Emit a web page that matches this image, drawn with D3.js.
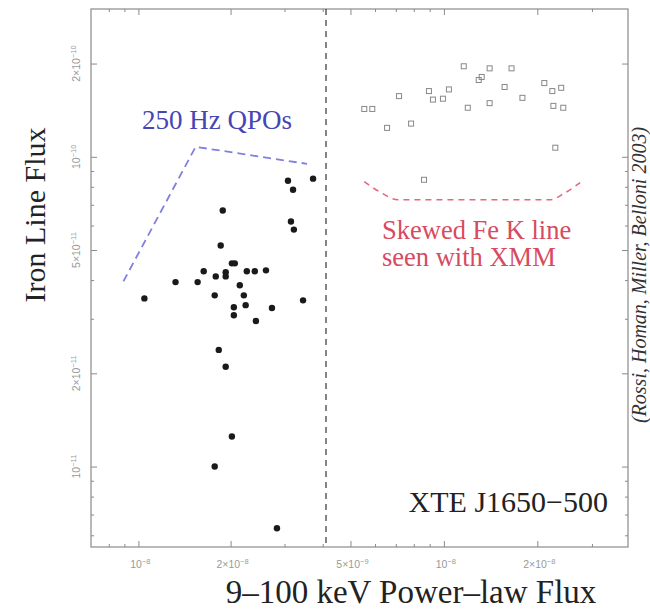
<!DOCTYPE html>
<html>
<head>
<meta charset="utf-8">
<script src="https://cdn.jsdelivr.net/npm/d3@7"></script>
<style>
  body { margin: 0; background: #fff; }
  svg { display: block; }
</style>
</head>
<body>
<div id="chart"></div>
<script>
// flux units: x in 1e-8, y in 1e-11

// RXTE points (left panel, filled dots)
const rxteX = [3.08, 3.72, 3.20, 1.886, 3.15, 3.22, 1.857, 2.02, 2.065, 1.634, 1.789, 1.928, 1.928,
    2.26, 2.40, 2.61, 1.322, 1.561, 2.144, 1.046, 1.775, 2.21, 3.45, 2.05, 2.24, 2.05, 2.73, 2.42,
    1.83, 1.928, 2.02, 1.775, 2.835];
const rxteY = [8.37, 8.50, 7.83, 6.71, 6.18, 5.82, 5.17, 4.53, 4.53, 4.27, 4.11, 4.24, 4.11,
    4.27, 4.27, 4.30, 3.94, 3.94, 3.85, 3.49, 3.57, 3.57, 3.44, 3.27, 3.32, 3.08, 3.25, 2.95,
    2.38, 2.10, 1.25, 1.00, 0.632];

// XMM-era points (right panel, open squares)
const xmmX = [0.554, 0.588, 0.717, 0.656, 0.784, 0.895, 0.922, 0.993, 1.038, 1.159, 1.194, 1.404,
    1.295, 1.324, 1.404, 1.652, 1.569, 1.791, 2.107, 2.236, 2.388, 2.253, 2.425, 2.286, 0.863];
const xmmY = [14.27, 14.27, 15.7, 12.4, 12.8, 16.3, 15.3, 15.4, 16.5, 19.6, 14.4, 19.3,
    17.7, 18.1, 14.9, 19.3, 16.8, 15.5, 17.3, 16.3, 16.7, 14.6, 14.4, 10.7, 8.43];

// dashed region outlines
const qpoLineX = [0.893, 1.538, 3.556];
const qpoLineY = [3.96, 10.77, 9.49];
const feLineX = [0.554, 0.619, 0.712, 1.0, 1.6, 2.203, 2.461, 2.749];
const feLineY = [8.31, 7.72, 7.27, 7.27, 7.27, 7.27, 7.66, 8.25];

// ticks
const yMajor = [1, 2, 5, 10, 20];
const yMajorLabels = [["10", "−11"], ["2×10", "−11"], ["5×10", "−11"], ["10", "−10"], ["2×10", "−10"]];
const yMinor = [0.6, 0.7, 0.8, 0.9, 3, 4, 6, 7, 8, 9];
const xLeftMajor = [1, 2];
const xLeftLabels = [["10", "−8"], ["2×10", "−8"]];
const xLeftMinor = [0.8, 0.9, 3, 4];
const xRightMajor = [0.5, 1, 2];
const xRightLabels = [["5×10", "−9"], ["10", "−8"], ["2×10", "−8"]];
const xRightMinor = [0.6, 0.7, 0.8, 0.9, 3];

const W = 650, H = 610;
const box = {left: 91, right: 628, top: 9, bottom: 547, split: 326};

const svg = d3.select("#chart").append("svg").attr("width", W).attr("height", H);

const y = d3.scaleLog().domain([0.55, 30]).range([box.bottom, box.top]);
const xL = d3.scaleLog().domain([0.7, 4.1]).range([box.left, box.split]);
const xR = d3.scaleLog().domain([0.417, 3.92]).range([box.split, box.right]);

const axisColor = "#8a8a8a";
const labelColor = "#999";
const serif = "'Liberation Serif', 'DejaVu Serif', serif";
const sans = "'Liberation Sans', 'DejaVu Sans', sans-serif";

function styleAxis(g) {
    g.select(".domain").remove();
    g.selectAll("line").attr("stroke", axisColor);
}

// inward ticks on all four sides
svg.append("g").attr("transform", `translate(${box.left},0)`)
    .call(d3.axisRight(y).tickValues(yMajor).tickSize(6).tickFormat("")).call(styleAxis);
svg.append("g").attr("transform", `translate(${box.left},0)`)
    .call(d3.axisRight(y).tickValues(yMinor).tickSize(3).tickFormat("")).call(styleAxis);
svg.append("g").attr("transform", `translate(${box.right},0)`)
    .call(d3.axisLeft(y).tickValues(yMajor).tickSize(6).tickFormat("")).call(styleAxis);
svg.append("g").attr("transform", `translate(${box.right},0)`)
    .call(d3.axisLeft(y).tickValues(yMinor).tickSize(3).tickFormat("")).call(styleAxis);

[[xL, xLeftMajor, xLeftMinor], [xR, xRightMajor, xRightMinor]].forEach(([sc, maj, min]) => {
    svg.append("g").attr("transform", `translate(0,${box.bottom})`)
        .call(d3.axisTop(sc).tickValues(maj).tickSize(6).tickFormat("")).call(styleAxis);
    svg.append("g").attr("transform", `translate(0,${box.bottom})`)
        .call(d3.axisTop(sc).tickValues(min).tickSize(3).tickFormat("")).call(styleAxis);
    svg.append("g").attr("transform", `translate(0,${box.top})`)
        .call(d3.axisBottom(sc).tickValues(maj).tickSize(6).tickFormat("")).call(styleAxis);
    svg.append("g").attr("transform", `translate(0,${box.top})`)
        .call(d3.axisBottom(sc).tickValues(min).tickSize(3).tickFormat("")).call(styleAxis);
});

// frame
svg.append("rect")
    .attr("x", box.left).attr("y", box.top)
    .attr("width", box.right - box.left).attr("height", box.bottom - box.top)
    .attr("fill", "none").attr("stroke", axisColor).attr("stroke-width", 1.2);

// tick labels with superscript exponents
function supText(t, base, exp) {
    t.append("tspan").text(base);
    t.append("tspan").attr("dy", -4.5).attr("font-size", 7.5).text(exp);
}

yMajor.forEach((v, i) => {
    const t = svg.append("text")
        .attr("transform", `translate(80,${y(v)}) rotate(-90)`)
        .attr("text-anchor", "middle")
        .attr("font-family", sans).attr("font-size", 10.5).attr("fill", labelColor);
    supText(t, yMajorLabels[i][0], yMajorLabels[i][1]);
});

[[xL, xLeftMajor, xLeftLabels], [xR, xRightMajor, xRightLabels]].forEach(([sc, maj, labs]) => {
    maj.forEach((v, i) => {
        const t = svg.append("text")
            .attr("x", sc(v) + 2).attr("y", 568)
            .attr("text-anchor", "middle")
            .attr("font-family", sans).attr("font-size", 10.5).attr("fill", labelColor);
        supText(t, labs[i][0], labs[i][1]);
    });
});

// panel divider
svg.append("line")
    .attr("x1", box.split).attr("x2", box.split)
    .attr("y1", box.top).attr("y2", box.bottom)
    .attr("stroke", "#333").attr("stroke-width", 1.2).attr("stroke-dasharray", "6,5");

// dashed outlines
const qpoLine = d3.line().x(d => xL(d[0])).y(d => y(d[1]));
svg.append("path")
    .attr("d", qpoLine(qpoLineX.map((v, i) => [v, qpoLineY[i]])))
    .attr("fill", "none").attr("stroke", "#8080e0").attr("stroke-width", 1.8)
    .attr("stroke-dasharray", "8,5");

const feLine = d3.line().x(d => xR(d[0])).y(d => y(d[1])).curve(d3.curveMonotoneX);
svg.append("path")
    .attr("d", feLine(feLineX.map((v, i) => [v, feLineY[i]])))
    .attr("fill", "none").attr("stroke", "#e5687c").attr("stroke-width", 1.6)
    .attr("stroke-dasharray", "6,5");

// points
svg.append("g").selectAll("circle")
    .data(rxteX.map((v, i) => [v, rxteY[i]]))
    .enter().append("circle")
    .attr("cx", d => xL(d[0])).attr("cy", d => y(d[1]))
    .attr("r", 3.2).attr("fill", "#1a1a1a");

svg.append("g").selectAll("rect")
    .data(xmmX.map((v, i) => [v, xmmY[i]]))
    .enter().append("rect")
    .attr("x", d => xR(d[0]) - 2.5).attr("y", d => y(d[1]) - 2.5)
    .attr("width", 5).attr("height", 5)
    .attr("fill", "none").attr("stroke", "#888").attr("stroke-width", 1);

// annotations
svg.append("text").attr("x", 142).attr("y", 129)
    .attr("font-family", serif).attr("font-size", 27).attr("fill", "#4545b5")
    .text("250 Hz QPOs");

const fe = svg.append("text").attr("font-family", serif).attr("font-size", 26.5).attr("fill", "#d84a5e");
fe.append("tspan").attr("x", 382).attr("y", 239).text("Skewed Fe K line");
fe.append("tspan").attr("x", 382).attr("y", 266).text("seen with XMM");

svg.append("text").attr("x", 608).attr("y", 512)
    .attr("text-anchor", "end")
    .attr("font-family", serif).attr("font-size", 30).attr("fill", "#222")
    .text("XTE J1650−500");

// axis titles
svg.append("text")
    .attr("transform", `translate(45,215) rotate(-90)`)
    .attr("text-anchor", "middle")
    .attr("font-family", serif).attr("font-size", 30).attr("fill", "#222")
    .text("Iron Line Flux");

svg.append("text")
    .attr("x", 411).attr("y", 603)
    .attr("text-anchor", "middle")
    .attr("font-family", serif).attr("font-size", 33).attr("fill", "#222")
    .text("9–100 keV Power–law Flux");

svg.append("text")
    .attr("transform", `translate(646,275) rotate(-90)`)
    .attr("text-anchor", "middle")
    .attr("font-family", serif).attr("font-style", "italic").attr("font-size", 20).attr("fill", "#333")
    .text("(Rossi, Homan, Miller, Belloni 2003)");
</script>
</body>
</html>
